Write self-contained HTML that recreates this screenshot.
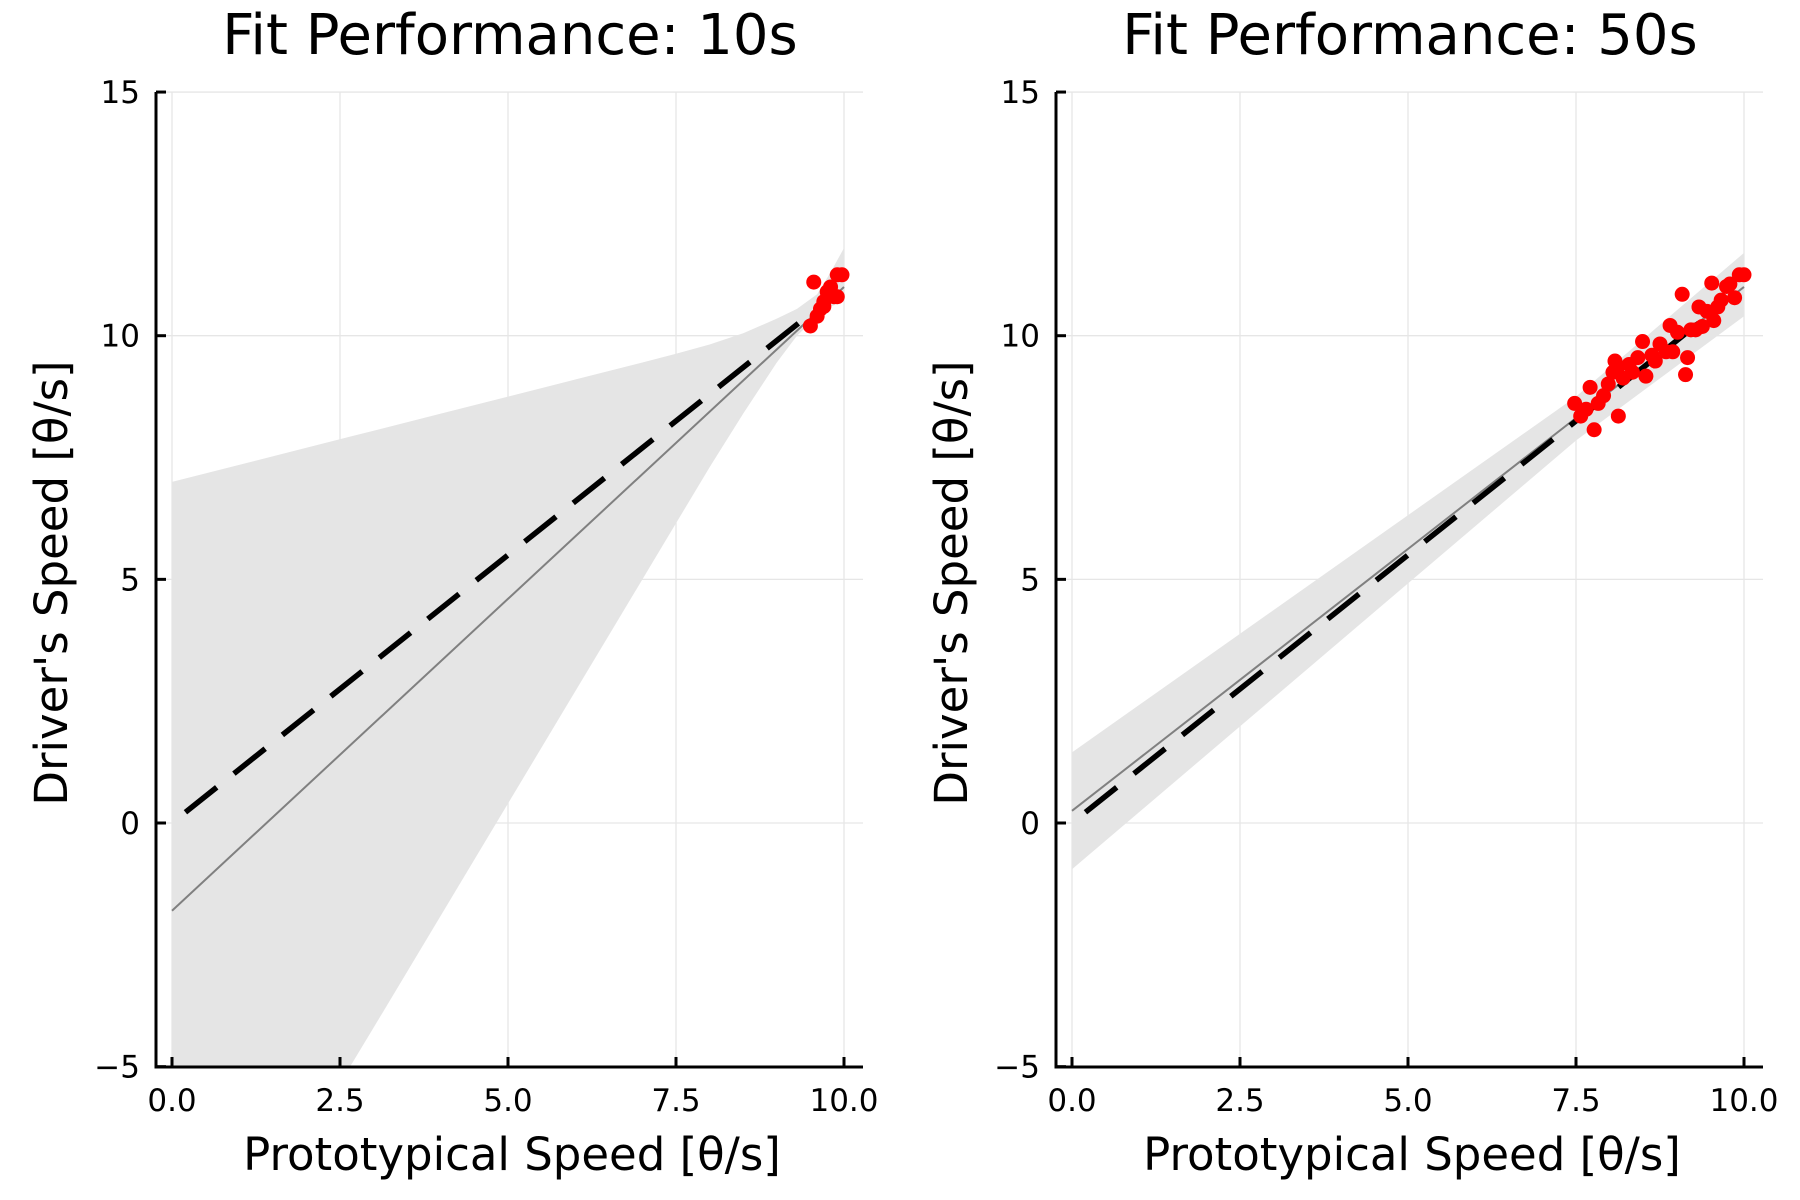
<!DOCTYPE html>
<html><head><meta charset="utf-8"><style>
html,body{margin:0;padding:0;background:#fff}
svg{display:block;font-family:"DejaVu Sans","Liberation Sans",sans-serif}
</style></head><body>
<svg id="chart" width="1800" height="1200" viewBox="0 0 1800 1200" xmlns="http://www.w3.org/2000/svg"></svg>
<script>
// Left panel (10s)
const leftBandX = [0, 1, 2, 2.65, 3, 4, 5, 6, 7, 7.5, 8, 8.5, 9.0, 9.3, 9.6, 9.8, 10.0];
const leftBandUpper = [7.0, 7.35, 7.7, 7.93, 8.05, 8.4, 8.75, 9.1, 9.45, 9.63, 9.82, 10.05, 10.35, 10.55, 10.85, 11.3, 11.8];
const leftBandLower = [-5.0, -5.0, -5.0, -5.0, -4.2, -1.9, 0.4, 2.7, 5.0, 6.15, 7.3, 8.4, 9.45, 10.0, 10.4, 10.6, 10.7];
const leftFitX = [0, 10];
const leftFitY = [-1.8, 11.0];
const leftPtsX = [9.55, 9.5, 9.6, 9.65, 9.7, 9.75, 9.8, 9.85, 9.9, 9.9, 9.97, 9.7];
const leftPtsY = [11.1, 10.2, 10.4, 10.55, 10.7, 10.9, 11.0, 10.8, 10.8, 11.25, 11.25, 10.6];
// Right panel (50s)
const rightBandX = [0, 7.5, 10.0];
const rightBandUpper = [1.45, 8.75, 11.7];
const rightBandLower = [-0.95, 7.85, 10.4];
const rightFitX = [0, 10];
const rightFitY = [0.25, 11.0];
const rightPtsX = [7.48,7.57,7.65,7.71,7.77,7.83,7.91,7.98,8.05,8.08,8.12,8.13,8.20,8.29,8.34,8.42,8.49,8.54,8.63,8.68,8.75,8.84,8.90,8.94,9.01,9.08,9.13,9.16,9.21,9.28,9.33,9.38,9.45,9.52,9.55,9.61,9.66,9.74,9.79,9.86,9.93,10.0];
const rightPtsY = [8.61,8.35,8.49,8.94,8.07,8.61,8.77,9.01,9.25,9.48,9.36,8.35,9.13,9.41,9.25,9.55,9.88,9.17,9.60,9.48,9.83,9.67,10.21,9.67,10.07,10.85,9.20,9.55,10.12,10.12,10.59,10.19,10.50,11.08,10.31,10.59,10.73,11.01,11.06,10.78,11.25,11.25];
// Shared
const truthX = [0.2, 9.7];
const xTicks = [0, 2.5, 5, 7.5, 10];
const xTickLabels = ["0.0","2.5","5.0","7.5","10.0"];
const yTicks = [-5, 0, 5, 10, 15];
const yTickLabels = ["\u22125","0","5","10","15"];
const titles = ["Fit Performance: 10s","Fit Performance: 50s"];
const truthSlope = 1.1;

const NS = "http://www.w3.org/2000/svg";
const svg = document.getElementById('chart');
function mk(tag, attrs, parent){const e=document.createElementNS(NS,tag);for(const k in attrs)e.setAttribute(k,attrs[k]);(parent||svg).appendChild(e);return e;}

const panels = [
 {off:0, bx:leftBandX, bu:leftBandUpper, bl:leftBandLower, fx:leftFitX, fy:leftFitY, px:leftPtsX, py:leftPtsY, name:'10s'},
 {off:900, bx:rightBandX, bu:rightBandUpper, bl:rightBandLower, fx:rightFitX, fy:rightFitY, px:rightPtsX, py:rightPtsY, name:'50s'}
];
panels.forEach((p,i)=>{
  const sx = v => p.off + 172 + v*67.2;
  const sy = v => 823 - v*48.73;
  const g = mk('g',{});
  
  
  const clipId='clip'+i;
  const cp=mk('clipPath',{id:clipId},g); mk('rect',{x:p.off+156,y:sy(15),width:707,height:sy(-5)-sy(15)},cp);
  xTicks.forEach(t=>{const l=mk('line',{x1:sx(t),x2:sx(t),y1:sy(15),y2:sy(-5),stroke:'#e6e6e6','stroke-width':1.3},g);
    });
  yTicks.forEach(t=>{const l=mk('line',{x1:p.off+156,x2:p.off+863,y1:sy(t),y2:sy(t),stroke:'#e6e6e6','stroke-width':1.3},g);
    });
  let pts=[];
  p.bx.forEach((x,j)=>pts.push(sx(x)+','+sy(p.bu[j])));
  for(let j=p.bx.length-1;j>=0;j--)pts.push(sx(p.bx[j])+','+sy(p.bl[j]));
  const band=mk('polygon',{points:pts.join(' '),fill:'#e5e5e5','clip-path':'url(#'+clipId+')'},g);
  
  const fit=mk('line',{x1:sx(p.fx[0]),y1:sy(p.fy[0]),x2:sx(p.fx[1]),y2:sy(p.fy[1]),stroke:'#808080','stroke-width':2},g);
  
  const tr=mk('line',{x1:sx(truthX[0]),y1:sy(truthX[0]*truthSlope),x2:sx(truthX[1]),y2:sy(truthX[1]*truthSlope),stroke:'#000','stroke-width':5.5,'stroke-dasharray':'40 22'},g);
  
  p.px.forEach((x,j)=>{const c=mk('circle',{cx:sx(x),cy:sy(p.py[j]),r:7.5,fill:'#ff0000'},g);
    });
  const ax=mk('line',{x1:p.off+156,x2:p.off+863,y1:1067,y2:1067,stroke:'#000','stroke-width':3},g);
  
  const ay=mk('line',{x1:p.off+156,x2:p.off+156,y1:sy(15),y2:1068.5,stroke:'#000','stroke-width':3},g);
  
  xTicks.forEach((t,j)=>{mk('line',{x1:sx(t),x2:sx(t),y1:1067,y2:1057,stroke:'#000','stroke-width':3},g);
    const tx=mk('text',{x:sx(t),y:1111,'font-size':31,'text-anchor':'middle'},g);tx.textContent=xTickLabels[j];
    });
  yTicks.forEach((t,j)=>{mk('line',{x1:p.off+156,x2:p.off+166,y1:sy(t),y2:sy(t),stroke:'#000','stroke-width':3},g);
    const tx=mk('text',{x:p.off+140,y:sy(t)+11,'font-size':31,'text-anchor':'end'},g);tx.textContent=yTickLabels[j];
    });
  const xl=mk('text',{x:p.off+512,y:1170,'font-size':45,'text-anchor':'middle'},g);xl.textContent='Prototypical Speed [θ/s]';
  
  const yl=mk('text',{x:0,y:0,'font-size':45,'text-anchor':'middle',transform:'translate('+(p.off+67)+',583) rotate(-90)'},g);yl.textContent="Driver's Speed [θ/s]";
  
  const tt=mk('text',{x:p.off+510,y:54,'font-size':56,'text-anchor':'middle'},g);tt.textContent=titles[i];
  
});
</script>
</body></html>
